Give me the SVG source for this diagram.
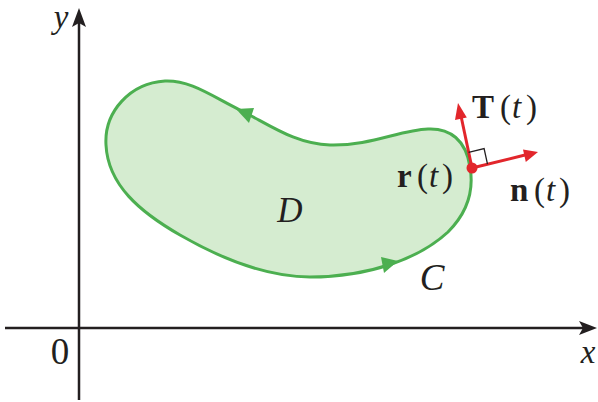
<svg xmlns="http://www.w3.org/2000/svg" width="598" height="402" viewBox="0 0 598 402">
<style>
.ax{stroke:#231f20;stroke-width:2.5;fill:none}
.axh{fill:#231f20}
.curve{stroke:#4caf50;stroke-width:3;fill:#d5ecd0}
.ga{fill:#4caf50}
.vec{stroke:#e2262b;stroke-width:3;fill:none}
.va{fill:#e2262b}
.t{font-family:"Liberation Serif","Times New Roman",serif;fill:#231f20}
.it{font-style:italic}
.b{font-weight:bold}
</style>
<g id="axes">
<line class="ax" x1="79" y1="400" x2="79" y2="22"/>
<polygon class="axh" points="79,8 86,27 79,23 72,27"/>
<line class="ax" x1="5" y1="328" x2="584" y2="328"/>
<polygon class="axh" points="597,328 579,335 583,328 579,321"/>
<text class="t it" x="61" y="28" font-size="33" text-anchor="middle">y</text>
<text class="t it" x="588" y="363" font-size="33" text-anchor="middle">x</text>
<text class="t" x="60" y="364" font-size="37" text-anchor="middle">0</text>
</g>
<g id="region-D">
<path class="curve" d="M 470,167 C 466,140 450,128 428,129 C 400,130 370,146 330,145 C 295,144 270,125 240,110 C 210,95 190,80 165,81 C 130,83 104,112 106,145 C 108,185 140,212 180,235 C 220,258 265,277 310,277 C 370,277 420,258 448,232 C 468,212 474,190 470,167 Z"/>
<text class="t it" x="290" y="222" font-size="35" text-anchor="middle">D</text>
</g>
<g id="curve-C">
<polygon class="ga" points="236,109 254,108 249,123"/>
<polygon class="ga" points="398,261 381,257 384,273"/>
<text class="t it" x="432" y="290" font-size="37" text-anchor="middle">C</text>
</g>
<g id="connectors">
<line class="vec" x1="472" y1="168" x2="461" y2="116"/>
<polygon class="va" points="458,103 466.8,117.4 455,120"/>
<line class="vec" x1="472" y1="168" x2="525" y2="155"/>
<polygon class="va" points="538,152 525.8,162.1 523,149.5"/>
<polyline points="468.6,152.3 484.1,148.5 487.5,164.2" fill="none" stroke="#231f20" stroke-width="1.3"/>
</g>
<g id="point-r">
<circle cx="472" cy="168" r="5.5" fill="#e2262b"/>
<text class="t" font-size="33" y="187"><tspan class="b" x="397">r</tspan><tspan x="417">(</tspan><tspan class="it" x="429">t</tspan><tspan x="442">)</tspan></text>
</g>
<g id="vector-T">
<text class="t" font-size="33" y="118"><tspan class="b" x="472">T</tspan><tspan x="500">(</tspan><tspan class="it" x="512">t</tspan><tspan x="526">)</tspan></text>
</g>
<g id="vector-n">
<text class="t" font-size="33" y="201"><tspan class="b" x="510">n</tspan><tspan x="534">(</tspan><tspan class="it" x="546">t</tspan><tspan x="559">)</tspan></text>
</g>
</svg>
